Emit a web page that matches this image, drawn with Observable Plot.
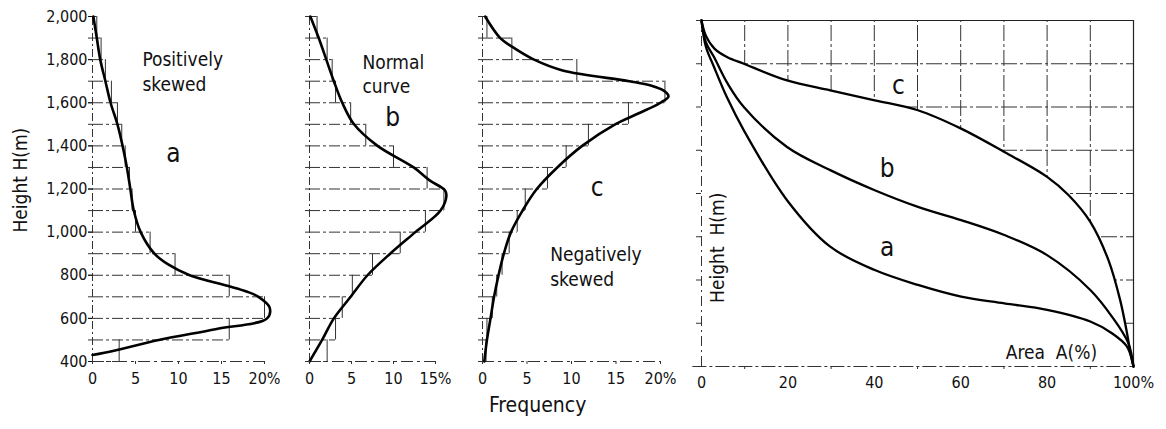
<!DOCTYPE html>
<html><head><meta charset="utf-8">
<script src="https://cdn.jsdelivr.net/npm/d3@7"></script>
<script src="https://cdn.jsdelivr.net/npm/@observablehq/plot@0.6"></script>
<style>
html,body{margin:0;padding:0;background:#fff;}
#chart{position:relative;width:1166px;height:429px;overflow:hidden;background:#fff;}
.panel{position:absolute;top:0;}
</style></head><body><div id="chart"></div>
<script>
const FONT = '"Liberation Sans Narrow","DejaVu Sans Condensed","Roboto Condensed","DejaVu Sans",sans-serif';

// Height bin edges (m) for the frequency histograms
const binEdges = [400,500,600,700,800,900,1000,1100,1200,1300,1400,1500,1600,1700,1800,1900,2000];
const heightTicks = [400,600,800,1000,1200,1400,1600,1800,2000];

// Histogram frequencies (%) for bins 400-500 ... 1900-2000
const freqA = [3.1,15.9,20.0,15.9,9.6,6.7,5.0,4.6,4.3,3.8,3.4,2.9,2.2,1.5,1.0,0.5];
const freqB = [2.1,3.1,3.9,5.1,7.5,10.8,13.8,16.0,14.0,10.0,6.7,4.9,3.1,2.7,2.1,0.9];
const freqC = [0.4,0.5,1.1,1.6,2.2,3.0,3.9,4.8,7.3,9.4,11.9,16.4,20.5,10.6,3.3,0.5];

// Smooth frequency curves: heights (m) and frequencies (%)
const curveAH = [430,450,500,550,600,650,700,725,750,800,850,900,1000,1100,1200,1300,1400,1500,1600,1700,1800,1900,2000];
const curveAF = [0,2.5,7.7,14.3,20.3,20.6,19.3,17.9,15.8,11.3,8.8,7.2,5.6,4.8,4.4,4.0,3.5,2.9,2.1,1.5,0.9,0.5,0.1];
const curveBH = [400,500,600,700,800,900,1000,1100,1170,1195,1240,1300,1400,1500,1600,1700,1800,1900,2000];
const curveBF = [0,1.5,2.9,4.9,6.9,9.6,12.6,15.6,16.3,16.1,14.3,12.4,8.1,5.3,3.9,2.9,2.0,1.1,0.1];
const curveCH = [400,500,600,700,800,900,1000,1100,1200,1300,1400,1500,1550,1600,1630,1655,1680,1700,1750,1800,1850,1900,2000];
const curveCF = [0.2,0.5,0.9,1.3,1.8,2.4,3.2,4.5,6.1,8.4,11.2,14.9,17.5,20.0,20.9,20.4,18.9,16.5,9.0,5.8,3.7,2.0,0.3];

// Hypsometric curves: area (%) and height (m)
const hypsoAA = [0,1,2.9,6,9.8,19.8,29.8,40.1,50.1,60.1,70.1,80,90,95,98.5,100];
const hypsoAH = [2000,1880,1785,1640,1492,1169,954,846,777,723,692,662,608,554,492,400];
const hypsoBA = [0,1,2.9,6,9.8,19.8,29.8,40.1,50.1,60.1,70.1,80,90,95,98.8,100];
const hypsoBH = [2000,1900,1831,1710,1600,1415,1308,1215,1138,1077,1008,915,754,631,508,400];
const hypsoCA = [0,1,3,6,9.8,19.8,29.8,40.1,50.1,60.1,70.1,80,85,90,94.2,96.9,98.5,99.4,100];
const hypsoCH = [2000,1930,1870,1830,1800,1723,1677,1631,1585,1500,1392,1277,1192,1069,892,708,554,450,400];

const areaGrid = [10,20,30,40,50,60,70,80,90];
const heightGrid = [600,800,1000,1200,1400,1600,1800];
const areaTicks = [0,20,40,60,80,100];
const areaTickLabels = ["0","20","40","60","80","100%"];
const areaMinorTicks = [10,30,50,70,90];

const root = document.getElementById("chart");
function place(svg, left, width) {
  const d = document.createElement("div");
  d.className = "panel";
  d.style.left = left + "px";
  d.style.width = width + "px";
  d.appendChild(svg);
  root.appendChild(d);
}
const INK = "#111";
const baseStyle = {fontFamily: FONT, fontSize: "16px", background: "transparent", overflow: "visible", color: INK};

function histPanel(o) {
  const bins = o.freq.map((v, i) => ({v, y1: binEdges[i], y2: binEdges[i + 1]}));
  const edges = binEdges.map((h, i) => ({h, w: Math.max(o.freq[i - 1] ?? 0, o.freq[i] ?? 0)}));
  const curve = o.ch.map((h, i) => ({h, f: o.cf[i]}));
  const marks = [
    Plot.ruleY(edges, {y: "h", x1: 0, x2: "w", stroke: "#333", strokeWidth: 1, strokeDasharray: "11,3,3,3"}),
    Plot.ruleX(bins, {x: "v", y1: "y1", y2: "y2", stroke: "#333", strokeWidth: 1}),
    Plot.ruleX([0], {y1: 400, y2: 2000, stroke: "#333", strokeWidth: 1, strokeDasharray: "8,3,2,3"}),
    Plot.ruleY([400], {x1: 0, x2: o.xMax, stroke: "#333", strokeWidth: 1, strokeDasharray: "12,4,3,4"}),
    Plot.line(curve, {x: "f", y: "h", curve: "catmull-rom", stroke: "#000", strokeWidth: 2.6}),
    Plot.axisY({ticks: binEdges, tickSize: 4, tickFormat: () => "", stroke: "#333", label: null}),
    Plot.axisX({ticks: o.xTicks, tickFormat: d => o.xLabels[o.xTicks.indexOf(d)], tickSize: 3, tickPadding: 8, fontSize: 16, label: null, stroke: "#333"}),
    ...o.extra
  ];
  const svg = Plot.plot({
    width: o.width, height: 429,
    marginLeft: o.mL, marginRight: o.mR, marginTop: 16, marginBottom: 68,
    x: {domain: [0, o.xMax]},
    y: {domain: [400, 2000]},
    style: baseStyle,
    marks
  });
  place(svg, o.left, o.width);
}

// Panel a
histPanel({
  left: 0, width: 290, mL: 92, mR: 26, xMax: 20,
  freq: freqA, cf: curveAF, ch: curveAH,
  xTicks: [0,5,10,15,20], xLabels: ["0","5","10","15","20%"],
  extra: [
    Plot.axisY({ticks: heightTicks, tickFormat: d3.format(","), tickSize: 4, tickPadding: 1, fontSize: 16, label: null}),
    Plot.text(["Height H(m)"], {frameAnchor: "left", y: 1241, dx: -72, rotate: -90, textAnchor: "middle", fontSize: 19, fill: INK}),
    Plot.text(["Positively\nskewed"], {x: 5.8, y: 1750, textAnchor: "start", lineHeight: 1.3, fontSize: 19, fill: INK}),
    Plot.text(["a"], {x: 9.4, y: 1366, fontSize: 26, fill: INK})
  ]
});

// Panel b
histPanel({
  left: 290, width: 180, mL: 19, mR: 35, xMax: 15,
  freq: freqB, cf: curveBF, ch: curveBH,
  xTicks: [0,5,10,15], xLabels: ["0","5","10","15%"],
  extra: [
    Plot.text(["Normal\ncurve"], {x: 6.3, y: 1738, textAnchor: "start", lineHeight: 1.3, fontSize: 19, fill: INK}),
    Plot.text(["b"], {x: 9.9, y: 1532, fontSize: 26, fill: INK})
  ]
});

// Panel c
histPanel({
  left: 470, width: 220, mL: 12, mR: 30, xMax: 20,
  freq: freqC, cf: curveCF, ch: curveCH,
  xTicks: [0,5,10,15,20], xLabels: ["0","5","10","15","20%"],
  extra: [
    Plot.text(["c"], {x: 12.9, y: 1204, fontSize: 26, fill: INK}),
    Plot.text(["Negatively\nskewed"], {x: 7.6, y: 845, textAnchor: "start", lineHeight: 1.3, fontSize: 19, fill: INK}),
    Plot.text(["Frequency"], {x: 6.2, frameAnchor: "bottom", dy: 50, fontSize: 21, fill: INK})
  ]
});

// Hypsometric panel
{
  const ca = hypsoAA.map((A, i) => ({A, H: hypsoAH[i]}));
  const cb = hypsoBA.map((A, i) => ({A, H: hypsoBH[i]}));
  const cc = hypsoCA.map((A, i) => ({A, H: hypsoCH[i]}));
  const dash = "16,3,3,3";
  const svg = Plot.plot({
    width: 476, height: 429,
    marginLeft: 11, marginRight: 33, marginTop: 20, marginBottom: 63,
    x: {domain: [0, 100]},
    y: {domain: [400, 2000]},
    style: baseStyle,
    marks: [
      Plot.ruleX(areaGrid, {y1: 400, y2: 2000, stroke: "#333", strokeWidth: 1, strokeDasharray: dash}),
      Plot.ruleY(heightGrid, {x1: 0, x2: 100, stroke: "#333", strokeWidth: 1, strokeDasharray: dash}),
      Plot.areaY(cc, {x: "A", y1: 400, y2: "H", curve: "catmull-rom", fill: "white"}),
      Plot.ruleY([2000], {x1: 0, x2: 100, stroke: "#222", strokeWidth: 1.2}),
      Plot.ruleX([100], {y1: 400, y2: 2000, stroke: "#222", strokeWidth: 1.2}),
      Plot.ruleX([0], {y1: 400, y2: 2000, stroke: "#333", strokeWidth: 1, strokeDasharray: "10,4,2,4"}),
      Plot.ruleY([400], {x1: -2, x2: 100, stroke: "#333", strokeWidth: 1, strokeDasharray: "14,3,3,3"}),
      Plot.line(ca, {x: "A", y: "H", curve: "catmull-rom", stroke: "#000", strokeWidth: 2.3}),
      Plot.line(cb, {x: "A", y: "H", curve: "catmull-rom", stroke: "#000", strokeWidth: 2.3}),
      Plot.line(cc, {x: "A", y: "H", curve: "catmull-rom", stroke: "#000", strokeWidth: 2.3}),
      Plot.text(["c"], {x: 45.6, y: 1699, fontSize: 26, fill: INK}),
      Plot.text(["b"], {x: 43, y: 1315, fontSize: 26, fill: INK}),
      Plot.text(["a"], {x: 43, y: 949, fontSize: 26, fill: INK}),
      Plot.text(["Area  A(%)"], {x: 81, y: 463, fontSize: 19, fill: INK}),
      Plot.text(["Height  H(m)"], {x: 3.9, y: 949, rotate: -90, textAnchor: "middle", fontSize: 19, fill: INK}),
      Plot.axisY({ticks: [400, ...heightGrid, 2000], tickSize: 5, tickFormat: () => "", stroke: "#333", label: null}),
      Plot.axisX({ticks: areaMinorTicks, tickSize: 3, tickFormat: () => "", stroke: "#333", label: null}),
      Plot.axisX({ticks: areaTicks, tickFormat: d => areaTickLabels[areaTicks.indexOf(d)], tickSize: 0, tickPadding: 10, fontSize: 16, label: null})
    ]
  });
  place(svg, 690, 476);
}
</script></body></html>
